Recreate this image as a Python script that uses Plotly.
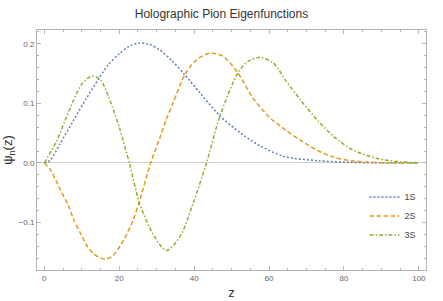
import plotly.graph_objects as go

z_1s = [0, 1.5, 4.2, 7.7, 11.3, 14.4, 17.1, 20, 22.7, 25.3, 28, 30.7, 34, 37.5, 41.5, 46.9, 52.2, 57.5, 64, 73, 82, 90, 100]
psi_1s = [0, 0.004, 0.032, 0.0705, 0.109, 0.14, 0.165, 0.183, 0.196, 0.201, 0.199, 0.19, 0.172, 0.148, 0.118, 0.079, 0.051, 0.029, 0.011, 0.0038, 0.001, 0.0002, 0]

z_2s = [0, 1.5, 3.3, 4.6, 6.4, 7.7, 9.5, 11.3, 13.1, 14.9, 16.6, 18.4, 21.1, 23.7, 25.3, 28.4, 30.9, 32.5, 34.4, 37.5, 40.6, 44.2, 47.7, 51.7, 55.7, 60.2, 64.5, 68.6, 73.1, 77.5, 82, 86, 91, 100]
psi_2s = [0, -0.01, -0.032, -0.049, -0.071, -0.093, -0.116, -0.138, -0.152, -0.159, -0.161, -0.155, -0.13, -0.096, -0.066, 0, 0.043, 0.072, 0.101, 0.148, 0.173, 0.184, 0.179, 0.151, 0.109, 0.076, 0.055, 0.037, 0.0205, 0.0093, 0.0038, 0.0015, 0.0003, 0]

z_3s = [0, 3.3, 5.5, 7.7, 10, 12.6, 14.9, 17.1, 20, 22.7, 25.3, 28, 30.7, 32.6, 36.2, 39.7, 43.3, 46.9, 51.7, 54.4, 57.5, 61.1, 64.5, 68.6, 73.1, 77.5, 82, 86.4, 90.9, 95.3, 100]
psi_3s = [0, 0.037, 0.0705, 0.104, 0.132, 0.1455, 0.14, 0.112, 0.06, 0, -0.065, -0.107, -0.136, -0.147, -0.124, -0.068, 0, 0.079, 0.151, 0.1705, 0.177, 0.168, 0.138, 0.104, 0.0705, 0.043, 0.023, 0.012, 0.005, 0.002, 0]

names = ["1S", "2S", "3S"]
colors = ["#5E81B5", "#E19C24", "#8FB032"]
dashes = ["2px,2px", "4.5px,2.5px", "4px,2px,1.5px,2px"]

x_ticks = [0, 20, 40, 60, 80, 100]
y_ticks = [-0.1, 0.0, 0.1, 0.2]
y_tick_labels = ["\u22120.1", "0.0", "0.1", "0.2"]

fig = go.Figure()
for zs, ps, n, c, d in zip([z_1s, z_2s, z_3s], [psi_1s, psi_2s, psi_3s], names, colors, dashes):
    fig.add_trace(go.Scatter(x=zs, y=ps, mode="lines", name=n,
                             line=dict(color=c, dash=d, width=1.5, shape="spline", smoothing=0.8)))

axis_common = dict(showline=True, linecolor="#b5b5b5", linewidth=1, mirror="ticks",
                   ticks="inside", ticklen=4, tickcolor="#b5b5b5", showgrid=False, automargin=False,
                   tickfont=dict(family="Liberation Sans, Arial", size=8, color="#666666"))

fig.update_layout(
    width=443, height=301,
    margin=dict(l=37, r=17, t=30, b=31),
    paper_bgcolor="white", plot_bgcolor="white",
    title=dict(text="Holographic Pion Eigenfunctions", x=0.5, xanchor="center", y=0.955, yanchor="middle",
               font=dict(family="Liberation Sans, Arial", size=12, color="#333333")),
    xaxis=dict(range=[-1.95, 101.9], tickvals=x_ticks, zeroline=False,
               minor=dict(dtick=5, ticklen=2, tickcolor="#b5b5b5", ticks="inside"),
               title=dict(text="z", standoff=6, font=dict(family="Liberation Sans, Arial", size=13, color="#333333")),
               **axis_common),
    yaxis=dict(range=[-0.1795, 0.223], tickvals=y_ticks, ticktext=y_tick_labels,
               zeroline=True, zerolinecolor="#cfcfcf", zerolinewidth=1,
               minor=dict(dtick=0.02, tick0=0, ticklen=2, tickcolor="#b5b5b5", ticks="inside"),
               title=dict(text="\u03c8<sub>n</sub>(z)", standoff=4, font=dict(family="Liberation Sans, Arial", size=13, color="#333333")),
               **axis_common),
    legend=dict(x=0.842, y=0.365, xanchor="left", yanchor="top", bgcolor="rgba(0,0,0,0)",
                font=dict(family="Liberation Sans, Arial", size=9, color="#444444"),
                tracegroupgap=0, itemwidth=30),
    showlegend=True,
)

fig.write_html("out.html", config={"displayModeBar": False},
               post_script="document.body.style.margin='0';document.body.style.overflow='hidden';")
